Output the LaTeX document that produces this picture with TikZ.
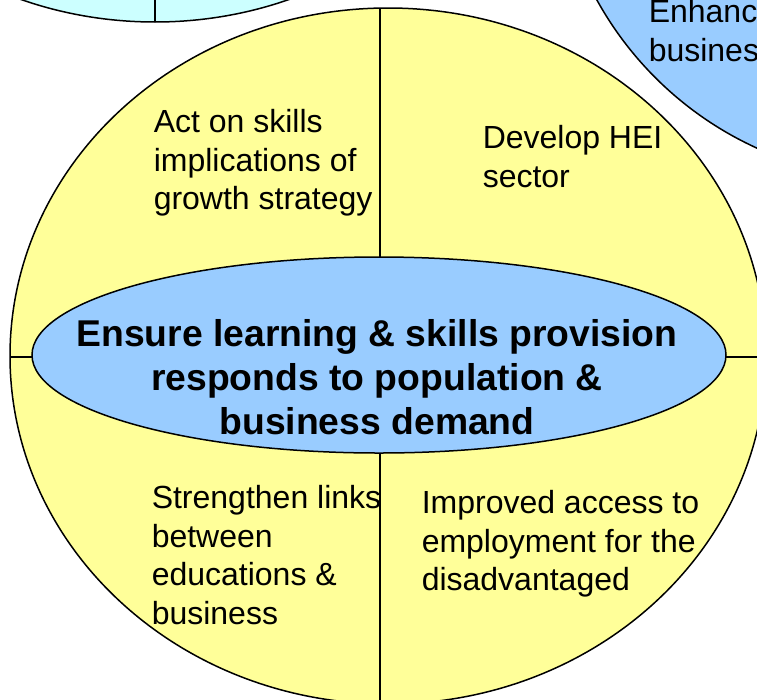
\documentclass[tikz,border=0pt]{standalone}
\usepackage{fontspec}
\setmainfont{Liberation Sans}
\definecolor{paleyellow}{HTML}{FFFF99}
\definecolor{skyblue}{HTML}{99CCFF}
\definecolor{palecyan}{HTML}{CCFFFF}
\tikzstyle{blurb}=[anchor=north west, align=left, inner sep=0pt, font=\fontsize{32}{38.5}\selectfont]
\tikzstyle{headline}=[anchor=north, align=center, inner sep=0pt, font=\fontsize{37.3}{44}\selectfont\bfseries]

\begin{document}
\begin{tikzpicture}[x=1pt, y=-1pt, line width=1.5pt]
    \useasboundingbox (0,0) rectangle (757,699);
    \clip (0,0) rectangle (757,699);
% Neighbouring circles
    \filldraw[fill=palecyan] (155,-326) ellipse (378 and 348);
    \draw[line width=1.2pt] (155,-674) -- (155,22);
    \filldraw[fill=skyblue] (900,-167) circle (346);
% Main circle and its quarters
    \fill[paleyellow] (388,356) ellipse (378 and 348);
    \begin{scope}
        \clip (388,356) ellipse (378 and 348);
        \draw[line width=1.2pt] (380,0) -- (380,710);
        \draw[line width=1.2pt] (0,357) -- (770,357);
    \end{scope}
    \draw (388,356) ellipse (378 and 348);
% Hub
    \filldraw[fill=skyblue] (379,355) ellipse (347 and 98);
% Texts
    \node[headline] (hub) at (377,319) {Ensure learning \& skills provision\\responds to population \&\\business demand};
    \node[blurb] (skills) at (153,109) {Act on skills\\implications of\\growth strategy};
    \node[blurb] (hei) at (482,125) {Develop HEI\\sector};
    \node[blurb] (links) at (151,485) {Strengthen links\\between\\educations \&\\business};
    \node[blurb] (access) at (421,490) {Improved access to\\employment for the\\disadvantaged};
    \node[blurb] (enhance) at (648,-1) {Enhanc\\busines};
\end{tikzpicture}
\end{document}
